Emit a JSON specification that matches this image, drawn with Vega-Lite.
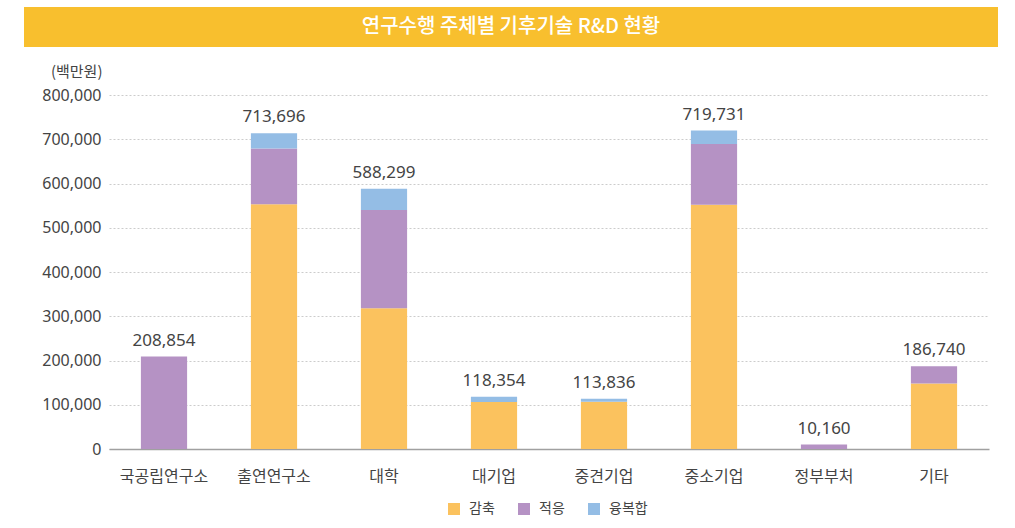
{
  "$schema": "https://vega.github.io/schema/vega-lite/v6.json",
  "padding": {"left": 24, "top": 7, "right": 5, "bottom": 5},
  "background": "white",
  "spacing": 17,
  "config": {
    "font": "Noto Sans CJK KR",
    "view": {"stroke": null}
  },
  "vconcat": [
    {
      "width": 974,
      "height": 40,
      "view": {"fill": "#F8BF2E", "stroke": null},
      "data": {"values": [{"t": "연구수행 주체별 기후기술 R&D 현황"}]},
      "mark": {"type": "text", "color": "white", "fontSize": 20, "fontWeight": 500, "font": "Noto Sans CJK KR", "baseline": "middle", "align": "center"},
      "encoding": {"text": {"field": "t", "type": "nominal"}}
    },
    {
      "spacing": 0,
      "hconcat": [
        {
          "width": 1,
          "height": 10,
          "data": {"values": [{}]},
          "mark": {"type": "text", "text": ""},
          "encoding": {}
        },
        {
          "width": 880,
          "height": 354,
          "data": {"values": [
            {"org": "국공립연구소", "type": "감축", "value": 0},
            {"org": "국공립연구소", "type": "적응", "value": 208854},
            {"org": "국공립연구소", "type": "융복합", "value": 0},
            {"org": "출연연구소", "type": "감축", "value": 553000},
            {"org": "출연연구소", "type": "적응", "value": 126000},
            {"org": "출연연구소", "type": "융복합", "value": 34696},
            {"org": "대학", "type": "감축", "value": 318000},
            {"org": "대학", "type": "적응", "value": 222000},
            {"org": "대학", "type": "융복합", "value": 48299},
            {"org": "대기업", "type": "감축", "value": 106000},
            {"org": "대기업", "type": "적응", "value": 0},
            {"org": "대기업", "type": "융복합", "value": 12354},
            {"org": "중견기업", "type": "감축", "value": 106500},
            {"org": "중견기업", "type": "적응", "value": 0},
            {"org": "중견기업", "type": "융복합", "value": 7336},
            {"org": "중소기업", "type": "감축", "value": 552000},
            {"org": "중소기업", "type": "적응", "value": 137000},
            {"org": "중소기업", "type": "융복합", "value": 30731},
            {"org": "정부부처", "type": "감축", "value": 0},
            {"org": "정부부처", "type": "적응", "value": 10160},
            {"org": "정부부처", "type": "융복합", "value": 0},
            {"org": "기타", "type": "감축", "value": 148000},
            {"org": "기타", "type": "적응", "value": 38740},
            {"org": "기타", "type": "융복합", "value": 0}
          ]},
          "layer": [
            {
              "transform": [{"calculate": "indexof(['감축','적응','융복합'], datum.type)", "as": "stackOrder"}],
              "mark": {"type": "bar"},
              "encoding": {
                "x": {
                  "field": "org", "type": "nominal",
                  "sort": ["국공립연구소", "출연연구소", "대학", "대기업", "중견기업", "중소기업", "정부부처", "기타"],
                  "scale": {"paddingInner": 0.58, "paddingOuter": 0.29},
                  "axis": {"title": null, "labelAngle": 0, "ticks": false, "labelPadding": 19, "labelFontSize": 16, "labelColor": "#444444", "domainColor": "#a0a0a0", "domainWidth": 1.5, "grid": false, "labelFont": "Noto Sans CJK KR"}
                },
                "y": {
                  "field": "value", "type": "quantitative", "aggregate": "sum", "stack": "zero",
                  "scale": {"domain": [0, 800000], "nice": false},
                  "axis": {"title": "(백만원)", "titleAngle": 0, "titleAlign": "right", "titleBaseline": "middle", "titleX": -7, "titleY": -24, "titleFontSize": 15, "titleFontWeight": "normal", "titleColor": "#444444", "titleFont": "Noto Sans CJK KR",
                    "values": [0, 100000, 200000, 300000, 400000, 500000, 600000, 700000, 800000], "format": ",d", "labelFontSize": 16, "labelColor": "#444444", "labelPadding": 8, "ticks": false, "domain": false, "gridColor": "#cccccc", "gridDash": [2, 2], "minExtent": 84, "labelFont": "Noto Sans"}
                },
                "color": {
                  "field": "type", "type": "nominal",
                  "scale": {"domain": ["감축", "적응", "융복합"], "range": ["#FBC25E", "#B592C4", "#94BDE5"]},
                  "legend": {"title": null, "orient": "none", "direction": "horizontal", "legendX": 423, "legendY": 495, "symbolType": "square", "symbolSize": 144, "symbolStrokeWidth": 0, "symbolOpacity": 1, "labelFontSize": 14, "labelOffset": 8, "labelColor": "#444444", "columnPadding": 22, "labelFont": "Noto Sans CJK KR"}
                },
                "order": {"field": "stackOrder", "type": "quantitative"}
              }
            },
            {
              "transform": [{"aggregate": [{"op": "sum", "field": "value", "as": "total"}], "groupby": ["org"]}],
              "mark": {"type": "text", "baseline": "bottom", "dy": -7, "fontSize": 17, "color": "#444444", "font": "Noto Sans"},
              "encoding": {
                "x": {"field": "org", "type": "nominal", "sort": ["국공립연구소", "출연연구소", "대학", "대기업", "중견기업", "중소기업", "정부부처", "기타"]},
                "y": {"field": "total", "type": "quantitative"},
                "text": {"field": "total", "type": "quantitative", "format": ",d"}
              }
            }
          ]
        }
      ]
    }
  ]
}
